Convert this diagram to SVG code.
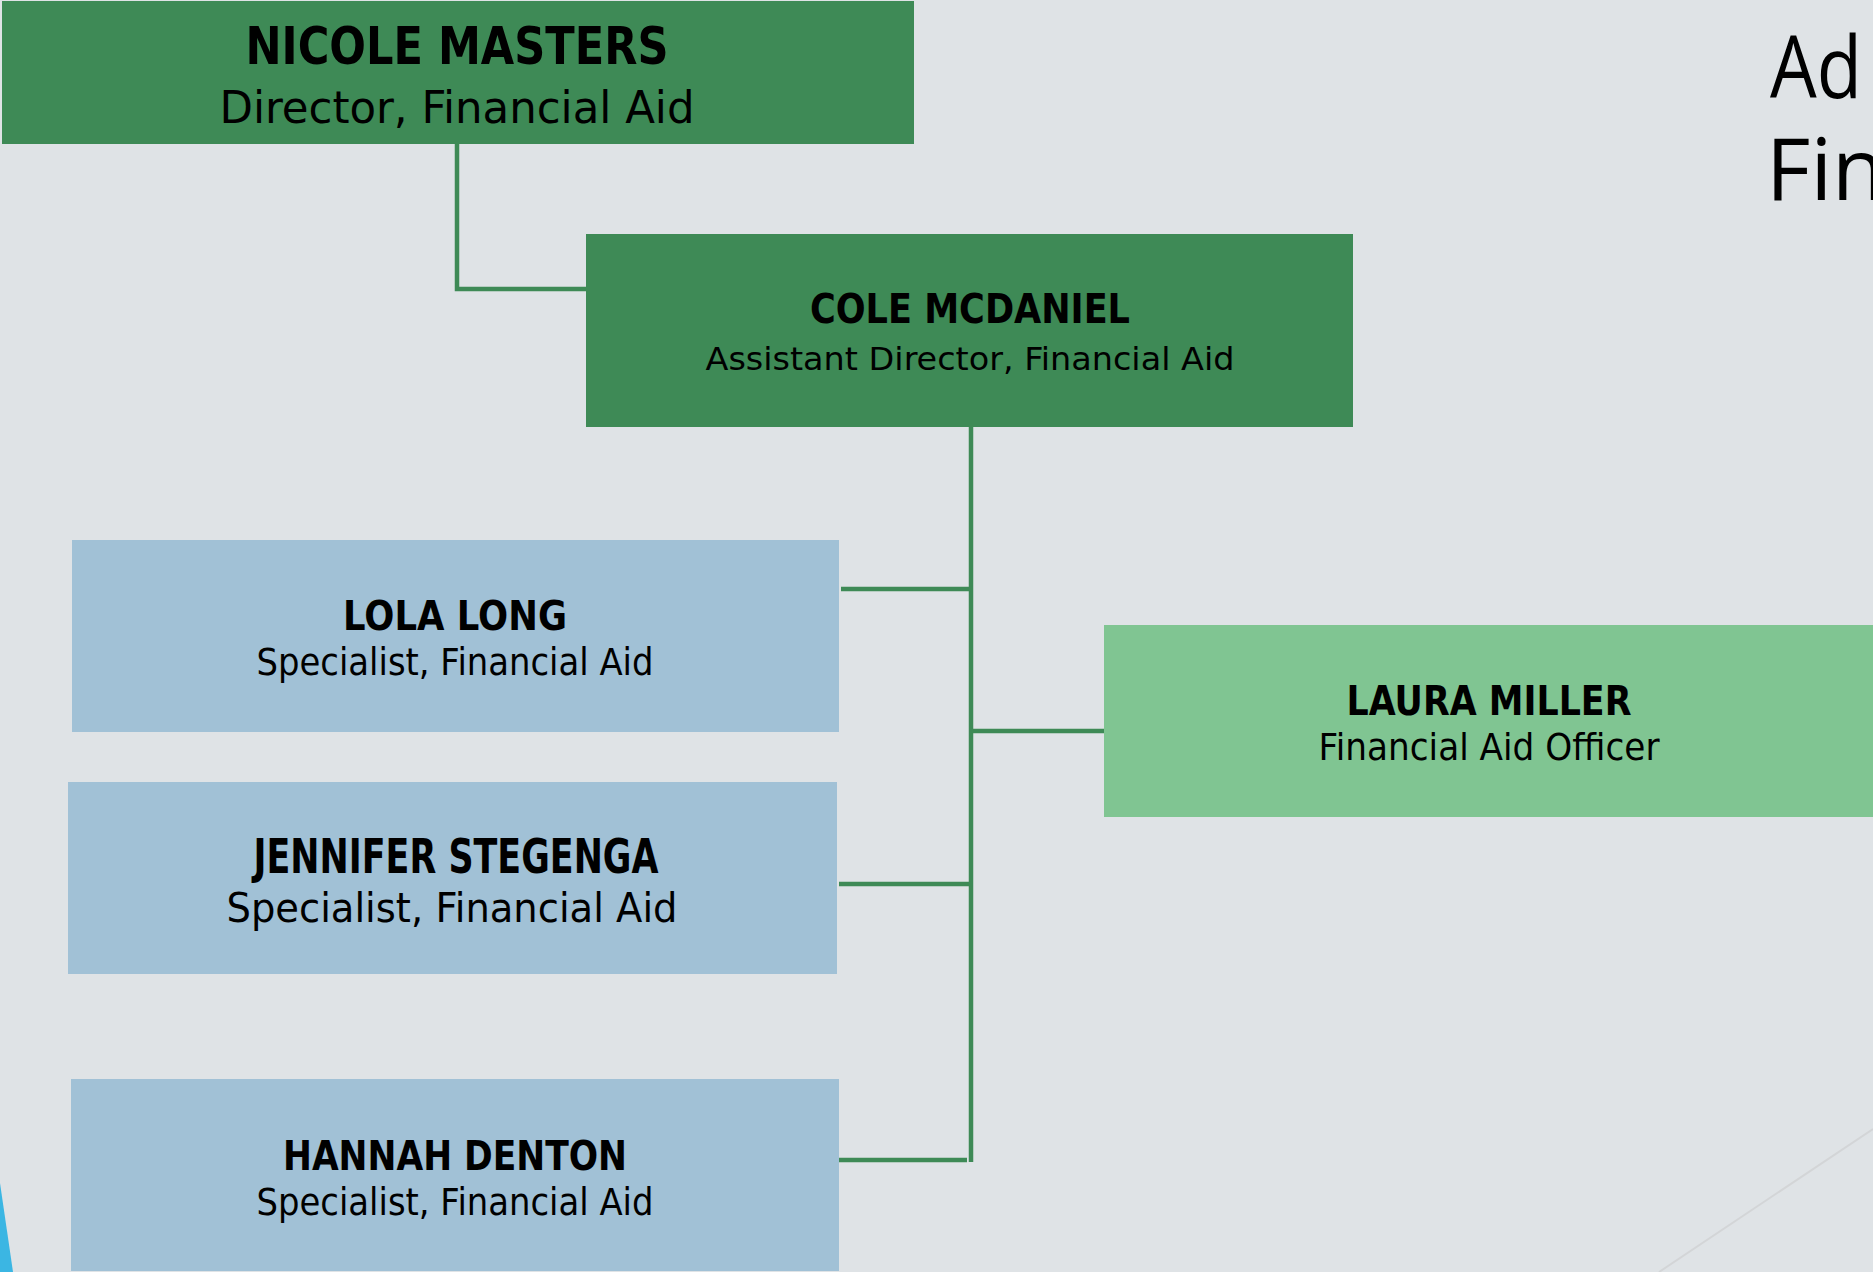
<svg xmlns="http://www.w3.org/2000/svg" width="1873" height="1272" viewBox="0 0 1873 1272">
  <style>
    .bg { fill: #dfe3e6; }
    .dark { fill: #3e8a56; }
    .blue { fill: #a1c1d6; }
    .light { fill: #80c592; }
    .conn { fill: none; stroke: #3e8a56; stroke-width: 4.5; }
    text { fill: #000; text-anchor: middle; }
    .top { font-family: "DejaVu Sans Condensed", "DejaVu Sans", sans-serif; }
    .low { font-family: "DejaVu Sans", "Liberation Sans", sans-serif; }
    .name { font-weight: bold; }
    .title { font-family: "Open Sans", "Liberation Sans", sans-serif; font-size: 86px; text-anchor: start; }
  </style>

  <!-- backdrop -->
  <rect class="bg" x="0" y="0" width="1873" height="1272"/>
  <polygon points="0,1183 13,1272 0,1272" fill="#3bb6e3"/>
  <line x1="1873" y1="1129" x2="1659" y2="1272" stroke="#d3d5d7" stroke-width="2"/>

  <!-- heading, running off the right edge -->
  <text class="title" x="1770" y="98" textLength="92" lengthAdjust="spacingAndGlyphs">Ad</text>
  <text class="title" x="1766" y="200">Fin</text>

  <!-- connectors -->
  <g id="connectors">
    <path class="conn" d="M457 144 V289 H586"/>
    <path class="conn" d="M971 426 V1162"/>
    <path class="conn" d="M841 589 H971"/>
    <path class="conn" d="M971 731 H1104"/>
    <path class="conn" d="M839 884 H971"/>
    <path class="conn" d="M835 1160 H967"/>
  </g>

  <g id="nicole-masters">
    <rect class="dark" x="2" y="1" width="912" height="143"/>
    <text class="top name" x="457" y="64" font-size="52" textLength="423" lengthAdjust="spacingAndGlyphs">NICOLE MASTERS</text>
    <text class="top" x="457" y="123" font-size="45" textLength="475" lengthAdjust="spacingAndGlyphs">Director, Financial Aid</text>
  </g>

  <g id="cole-mcdaniel">
    <rect class="dark" x="586" y="234" width="767" height="193"/>
    <text class="top name" x="970" y="323" font-size="40" textLength="320" lengthAdjust="spacingAndGlyphs">COLE MCDANIEL</text>
    <text class="top" x="970" y="370" font-size="32" textLength="529" lengthAdjust="spacingAndGlyphs">Assistant Director, Financial Aid</text>
  </g>

  <g id="lola-long">
    <rect class="blue" x="72" y="540" width="767" height="192"/>
    <text class="low name" x="455" y="630" font-size="40" textLength="224" lengthAdjust="spacingAndGlyphs">LOLA LONG</text>
    <text class="low" x="455" y="675" font-size="37" textLength="397" lengthAdjust="spacingAndGlyphs">Specialist, Financial Aid</text>
  </g>

  <g id="laura-miller">
    <rect class="light" x="1104" y="625" width="780" height="192"/>
    <text class="low name" x="1489" y="715" font-size="41" textLength="285" lengthAdjust="spacingAndGlyphs">LAURA MILLER</text>
    <text class="low" x="1489" y="760" font-size="38" textLength="341" lengthAdjust="spacingAndGlyphs">Financial Aid Officer</text>
  </g>

  <g id="jennifer-stegenga">
    <rect class="blue" x="68" y="782" width="769" height="192"/>
    <text class="low name" x="456" y="873" font-size="48" textLength="405" lengthAdjust="spacingAndGlyphs">JENNIFER STEGENGA</text>
    <text class="low" x="452" y="922" font-size="41" textLength="451" lengthAdjust="spacingAndGlyphs">Specialist, Financial Aid</text>
  </g>

  <g id="hannah-denton">
    <rect class="blue" x="71" y="1079" width="768" height="192"/>
    <text class="low name" x="455" y="1170" font-size="40" textLength="344" lengthAdjust="spacingAndGlyphs">HANNAH DENTON</text>
    <text class="low" x="455" y="1215" font-size="37" textLength="397" lengthAdjust="spacingAndGlyphs">Specialist, Financial Aid</text>
  </g>
</svg>
